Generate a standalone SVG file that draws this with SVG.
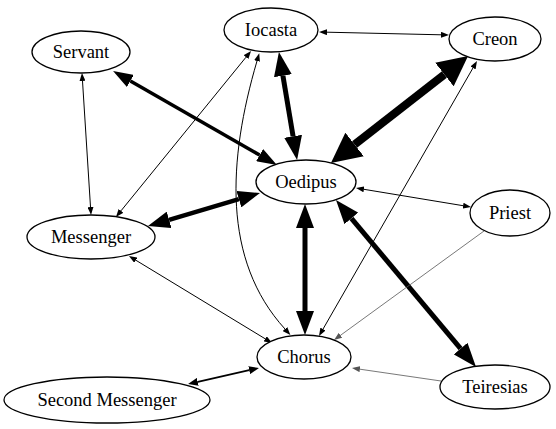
<svg xmlns="http://www.w3.org/2000/svg" width="556" height="429" viewBox="0 0 556 429">
<style>
.node ellipse{fill:#fff;stroke:#000;stroke-width:1.3}
.node text{font-family:"Liberation Serif","Times New Roman",serif;font-size:18.5px;text-anchor:middle;fill:#000}
.e{fill:none;stroke:#000}
.t{stroke-width:1}
.g{stroke:#555;stroke-width:0.8}
</style>
<defs>
<marker id="ms" viewBox="0 0 8 6" markerWidth="8" markerHeight="6" refX="0" refY="3" orient="auto-start-reverse" markerUnits="userSpaceOnUse"><path d="M0,0 L8,3 L0,6 Z" fill="#000"/></marker>
<marker id="mg" viewBox="0 0 8 6" markerWidth="8" markerHeight="6" refX="0" refY="3" orient="auto-start-reverse" markerUnits="userSpaceOnUse"><path d="M0,0 L8,3 L0,6 Z" fill="#555"/></marker>
<marker id="mm" viewBox="0 0 10 8" markerWidth="10" markerHeight="8" refX="0" refY="4" orient="auto-start-reverse" markerUnits="userSpaceOnUse"><path d="M0,0 L10,4 L0,8 Z" fill="#000"/></marker>
<marker id="mt" viewBox="0 0 20 14" markerWidth="20" markerHeight="14" refX="0" refY="7" orient="auto-start-reverse" markerUnits="userSpaceOnUse"><path d="M0,0 L20,7 L0,14 Z" fill="#000"/></marker>
<marker id="mo" viewBox="0 0 22 17" markerWidth="22" markerHeight="17" refX="0" refY="8.5" orient="auto-start-reverse" markerUnits="userSpaceOnUse"><path d="M0,0 L22,8.5 L0,17 Z" fill="#000"/></marker>
<marker id="mb" viewBox="0 0 24 18" markerWidth="24" markerHeight="18" refX="0" refY="9" orient="auto-start-reverse" markerUnits="userSpaceOnUse"><path d="M0,0 L24,9 L0,18 Z" fill="#000"/></marker>
<marker id="mx" viewBox="0 0 30 30" markerWidth="30" markerHeight="30" refX="0" refY="15" orient="auto-start-reverse" markerUnits="userSpaceOnUse"><path d="M0,0 L30,15 L0,30 Z" fill="#000"/></marker>
</defs>
<g id="edges">
<path class="e t" d="M327,32.2 L441,34.8" marker-start="url(#ms)" marker-end="url(#ms)"/>
<path class="e" stroke-width="5" d="M282.9,75.7 L293.1,136.3" marker-start="url(#mb)" marker-end="url(#mb)"/>
<path class="e" stroke-width="8" d="M444.4,74.5 L354.6,144.5" marker-start="url(#mx)" marker-end="url(#mx)"/>
<path class="e" stroke-width="3.5" d="M130.4,80.9 L259.6,155.1" marker-start="url(#mt)" marker-end="url(#mt)"/>
<path class="e t" d="M82.5,81 L90.5,207" marker-start="url(#ms)" marker-end="url(#ms)"/>
<path class="e t" d="M246,57.2 L121,210.8" marker-start="url(#ms)" marker-end="url(#ms)"/>
<path class="e t" d="M257,61 C228,160 222,260 285,329" marker-start="url(#ms)" marker-end="url(#ms)"/>
<path class="e t" d="M135.8,260.2 L265.2,338.8" marker-start="url(#ms)" marker-end="url(#ms)"/>
<path class="e" stroke-width="5" d="M305,228 L305,311" marker-start="url(#mb)" marker-end="url(#mb)"/>
<path class="e" stroke-width="5" d="M351.4,218.4 L460.6,348.6" marker-start="url(#mb)" marker-end="url(#mb)"/>
<path class="e t" d="M363.9,189.3 L463.1,205.7" marker-start="url(#ms)" marker-end="url(#ms)"/>
<path class="e g" d="M484,231 L340.5,335.3" marker-end="url(#mg)"/>
<path class="e t" d="M473,67.9 L323,329.1" marker-start="url(#ms)" marker-end="url(#ms)"/>
<path class="e g" d="M441,381 L359.9,369.2" marker-end="url(#mg)"/>
<path class="e" stroke-width="1.8" d="M197.8,381.8 L249.2,370.2" marker-start="url(#mm)" marker-end="url(#mm)"/>
<path class="e" stroke-width="4.5" d="M169.1,219.8 L238.9,199.2" marker-start="url(#mo)" marker-end="url(#mo)"/>
</g>
<g id="Iocasta" class="node"><ellipse cx="271" cy="30" rx="47" ry="22"/><text x="271" y="36">Iocasta</text></g>
<g id="Creon" class="node"><ellipse cx="495" cy="39" rx="46" ry="22"/><text x="495" y="45">Creon</text></g>
<g id="Servant" class="node"><ellipse cx="81" cy="52" rx="49" ry="21"/><text x="81" y="58">Servant</text></g>
<g id="Oedipus" class="node"><ellipse cx="306" cy="182" rx="50" ry="22"/><text x="306" y="188">Oedipus</text></g>
<g id="Priest" class="node"><ellipse cx="510" cy="213" rx="40" ry="23"/><text x="510" y="219">Priest</text></g>
<g id="Messenger" class="node"><ellipse cx="91" cy="237" rx="64" ry="22"/><text x="91" y="243">Messenger</text></g>
<g id="Chorus" class="node"><ellipse cx="304" cy="357" rx="47" ry="22"/><text x="304" y="363">Chorus</text></g>
<g id="Teiresias" class="node"><ellipse cx="495" cy="387" rx="55" ry="22"/><text x="495" y="393">Teiresias</text></g>
<g id="Second_Messenger" class="node"><ellipse cx="107" cy="400" rx="103" ry="23"/><text x="107" y="406">Second Messenger</text></g>
</svg>
